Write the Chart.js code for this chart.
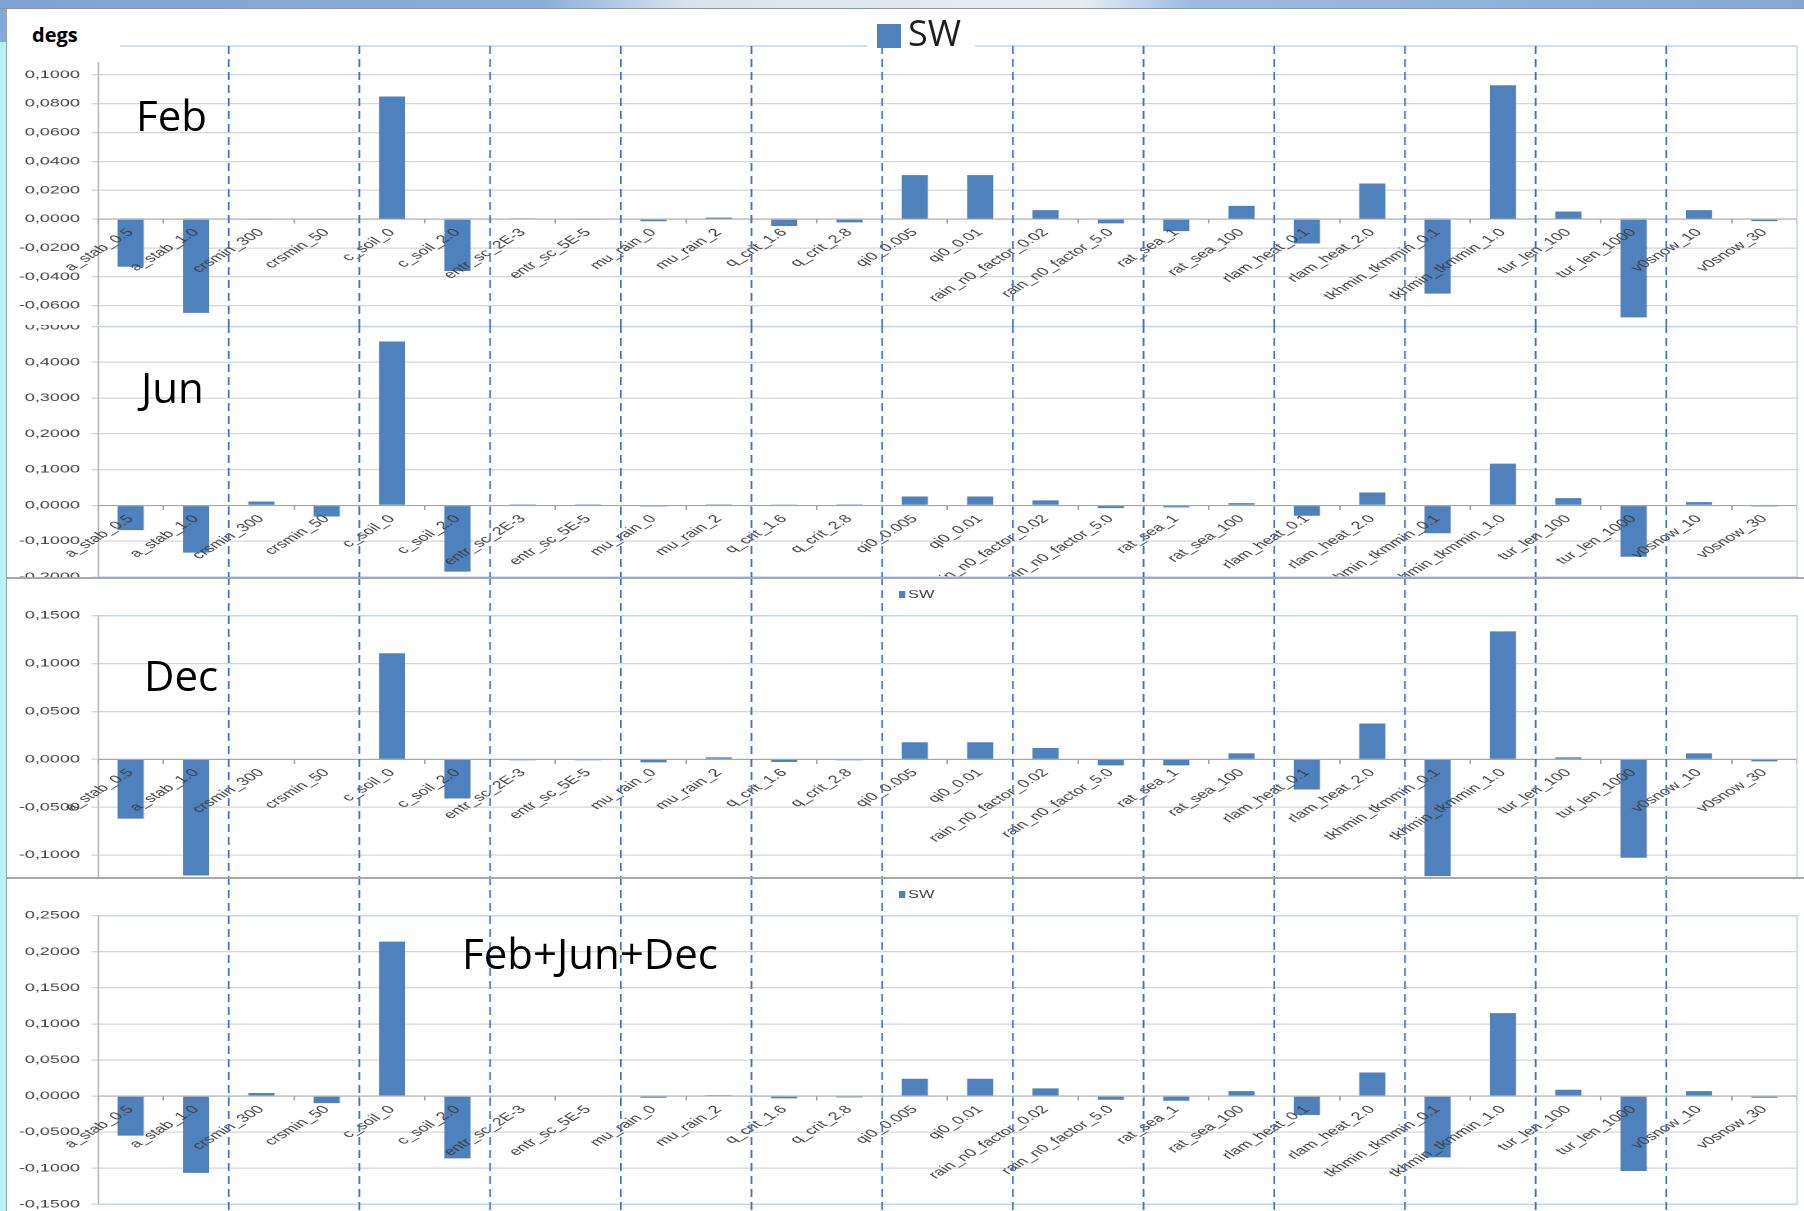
<!DOCTYPE html>
<html>
<head>
<meta charset="utf-8">
<script src="https://cdn.jsdelivr.net/npm/chart.js@4/dist/chart.umd.min.js"></script>
<style>
html,body{margin:0;padding:0;}
body{width:1804px;height:1211px;position:relative;overflow:hidden;background:#fff;}
.panel{position:absolute;left:0;width:1100px;transform:scaleX(1.64);transform-origin:0 0;background:#fff;overflow:hidden;}
.panel canvas{position:absolute;left:0;top:0;}
.sep{position:absolute;left:6px;width:1798px;height:2px;background:#a8a8a8;z-index:5;}
.lbl{position:absolute;font-family:"Open Sans",sans-serif;font-size:42px;line-height:1;color:#000;white-space:nowrap;z-index:6;}
.mini{position:absolute;left:548px;top:14px;font-family:"Liberation Sans",sans-serif;font-size:10px;line-height:8px;color:#404040;white-space:nowrap;}
.mini span{display:inline-block;width:3.7px;height:7px;background:#4f81bd;margin-right:2px;vertical-align:top;}
</style>
</head>
<body>
<div id="topstrip" style="position:absolute;left:0;top:0;width:1804px;height:8px;z-index:8;background:linear-gradient(90deg,#7ea3d4 0%,#8caed9 30%,#d9e2ec 38%,#e8edf2 60%,#9dbbe0 66%,#84a8d6 100%);border-bottom:1px solid #8c96a0;"></div>
<div id="leftstrip" style="position:absolute;left:0;top:0;width:6px;height:1211px;z-index:7;background:linear-gradient(180deg,#86a8d8 0px,#86a8d8 42px,#b9f2f2 42px,#b9f2f2 100%);border-right:1px solid #98a8a8;"></div>

<div class="panel" id="pFeb" style="top:8px;height:332px;z-index:1;"></div>
<div class="panel" id="pJun" style="top:325px;height:265px;z-index:2;"></div>
<div class="panel" id="pDec" style="top:577px;height:333px;z-index:3;"><div class="mini"><span></span>SW</div></div>
<div class="panel" id="pAll" style="top:877px;height:334px;z-index:4;"><div class="mini"><span></span>SW</div></div>

<div class="sep" style="top:577px;"></div>
<div class="sep" style="top:877px;"></div>

<div style="position:absolute;left:7px;top:9px;width:113px;height:53px;background:#fff;z-index:6;"></div>
<div class="lbl" style="left:32px;top:25px;font-size:20px;font-weight:bold;">degs</div>

<div style="position:absolute;left:867px;top:20px;width:108px;height:28px;background:#fff;z-index:6;"></div>
<div style="position:absolute;left:877px;top:24px;width:24px;height:24px;background:#4f81bd;z-index:7;"></div>
<div class="lbl" style="left:908px;top:15px;font-size:36px;color:#1e1e1e;z-index:7;">SW</div>

<div class="lbl" style="left:136px;top:94px;">Feb</div>
<div class="lbl" style="left:141px;top:366px;">Jun</div>
<div class="lbl" style="left:144px;top:654px;">Dec</div>
<div class="lbl" style="left:462px;top:932px;">Feb+Jun+Dec</div>

<script>
const categories = ["a_stab_0.5","a_stab_1.0","crsmin_300","crsmin_50","c_soil_0","c_soil_2.0","entr_sc_2E-3","entr_sc_5E-5","mu_rain_0","mu_rain_2","q_crit_1.6","q_crit_2.8","qi0_0.005","qi0_0.01","rain_n0_factor_0.02","rain_n0_factor_5.0","rat_sea_1","rat_sea_100","rlam_heat_0.1","rlam_heat_2.0","tkhmin_tkmmin_0.1","tkhmin_tkmmin_1.0","tur_len_100","tur_len_1000","v0snow_10","v0snow_30"];

const febValues = [-0.033,-0.065,-0.0005,0,0.085,-0.036,0.0005,-0.0005,-0.0015,0.001,-0.0048,-0.0023,0.0305,0.0305,0.0062,-0.003,-0.0083,0.0092,-0.0169,0.0247,-0.0517,0.0928,0.0053,-0.0681,0.0062,-0.0014];
const junValues = [-0.069,-0.132,0.011,-0.031,0.458,-0.185,0.003,0.003,-0.003,0.003,0.0005,0.003,0.025,0.025,0.014,-0.0074,-0.0056,0.0065,-0.0287,0.0361,-0.0778,0.1167,0.0204,-0.1435,0.0093,-0.003];
const decValues = [-0.0619,-0.1213,0,0,0.1108,-0.0409,-0.001,-0.001,-0.0031,0.0021,-0.0028,-0.001,0.0178,0.0178,0.0119,-0.0063,-0.0063,0.0063,-0.0315,0.0374,-0.122,0.1336,0.0021,-0.1028,0.0063,-0.0021];
const allValues = [-0.0549,-0.1065,0.0042,-0.0097,0.214,-0.0863,0.001,0,-0.0023,0.0014,-0.0032,-0.0018,0.024,0.024,0.0106,-0.0051,-0.0065,0.0069,-0.0263,0.0327,-0.0849,0.1149,0.0088,-0.1038,0.0069,-0.0023];

const febTicks = [-0.08,-0.06,-0.04,-0.02,0,0.02,0.04,0.06,0.08,0.10];
const junTicks = [-0.2,-0.1,0,0.1,0.2,0.3,0.4,0.5];
const decTicks = [-0.15,-0.1,-0.05,0,0.05,0.1,0.15];
const allTicks = [-0.15,-0.1,-0.05,0,0.05,0.1,0.15,0.2,0.25];

const seriesName = "SW";

// layout (compressed canvas space; panels are stretched horizontally by 1.64)
const STRETCH = 1.64;
const CW = 1100;
const PLOT_L = 98 / STRETCH;
const PLOT_R = 1797 / STRETCH;

function fmt(v){
  const s = Math.abs(v).toFixed(4).replace('.', ',');
  return (v < -1e-9 ? '-' : '') + s;
}

const overlayPlugin = {
  id: 'overlay',
  afterDraw(chart, args, opts){
    const {ctx, chartArea: a, scales: {x}} = chart;
    ctx.save();
    ctx.strokeStyle = '#c3d5ec';
    ctx.lineWidth = 1.5;
    ctx.beginPath();
    ctx.moveTo(a.left, a.top); ctx.lineTo(a.right, a.top);
    ctx.moveTo(a.left, a.bottom); ctx.lineTo(a.right, a.bottom);
    ctx.stroke();
    ctx.lineWidth = 1;
    ctx.beginPath();
    ctx.moveTo(a.right, a.top); ctx.lineTo(a.right, a.bottom);
    ctx.stroke();
    ctx.strokeStyle = '#3f73bd';
    ctx.lineWidth = 1.05;
    ctx.setLineDash([8, 5]);
    const y0 = opts.fromChartTop ? a.top : 0;
    for (let k = 2; k < categories.length; k += 2){
      const xb = (x.getPixelForValue(k - 1) + x.getPixelForValue(k)) / 2;
      ctx.beginPath();
      ctx.moveTo(xb, y0);
      ctx.lineTo(xb, chart.height);
      ctx.stroke();
    }
    ctx.restore();
  }
};

function makePanel(id, height, values, ticks, min, max, padTop, padBottom, fromChartTop){
  const holder = document.getElementById(id);
  const c = document.createElement('canvas');
  c.width = CW; c.height = height;
  c.style.width = CW + 'px'; c.style.height = height + 'px';
  holder.insertBefore(c, holder.firstChild);
  new Chart(c, {
    type: 'bar',
    data: {
      labels: categories,
      datasets: [{
        label: seriesName,
        data: values,
        backgroundColor: '#4f81bd',
        borderWidth: 0,
        barPercentage: 0.4,
        categoryPercentage: 1.0
      }]
    },
    options: {
      responsive: false,
      animation: false,
      devicePixelRatio: 2,
      layout: { padding: { left: 0, right: CW - PLOT_R, top: padTop, bottom: padBottom } },
      plugins: {
        legend: { display: false },
        tooltip: { enabled: false },
        overlay: { fromChartTop: fromChartTop }
      },
      scales: {
        x: {
          position: { y: 0 },
          afterFit: s => { s.height = 0; s.paddingLeft = 0; s.paddingRight = 0; },
          grid: { drawOnChartArea: false, drawTicks: true, tickLength: 4, tickColor: '#a6a6a6', offset: true, z: 1 },
          border: { display: true, color: '#a6a6a6', width: 1, z: 1 },
          ticks: {
            z: 1,
            autoSkip: false, minRotation: 45, maxRotation: 45, padding: 3,
            color: '#404040', font: { family: 'Liberation Sans', size: 11 }
          }
        },
        y: {
          min: min, max: max,
          afterBuildTicks: s => { s.ticks = ticks.map(v => ({ value: v })); },
          afterFit: s => { s.width = PLOT_L; s.paddingTop = 0; s.paddingBottom = 0; },
          grid: { color: '#d6d6d6', lineWidth: 1.3, drawTicks: true, tickLength: 4 },
          border: { display: true, color: '#a6a6a6', width: 0.8 },
          ticks: {
            padding: 7, color: '#404040', font: { family: 'Liberation Sans', size: 11 },
            callback: v => fmt(v)
          }
        }
      }
    },
    plugins: [overlayPlugin]
  });
}

makePanel('pFeb', 332, febValues, febTicks, -0.08, 0.12, 38, 5.5, true);
makePanel('pJun', 265, junValues, junTicks, -0.2, 0.5, 1.5, 13, false);
makePanel('pDec', 333, decValues, decTicks, -0.15, 0.15, 38.7, 7, false);
makePanel('pAll', 334, allValues, allTicks, -0.15, 0.25, 38.7, 6.7, false);
</script>
</body>
</html>
